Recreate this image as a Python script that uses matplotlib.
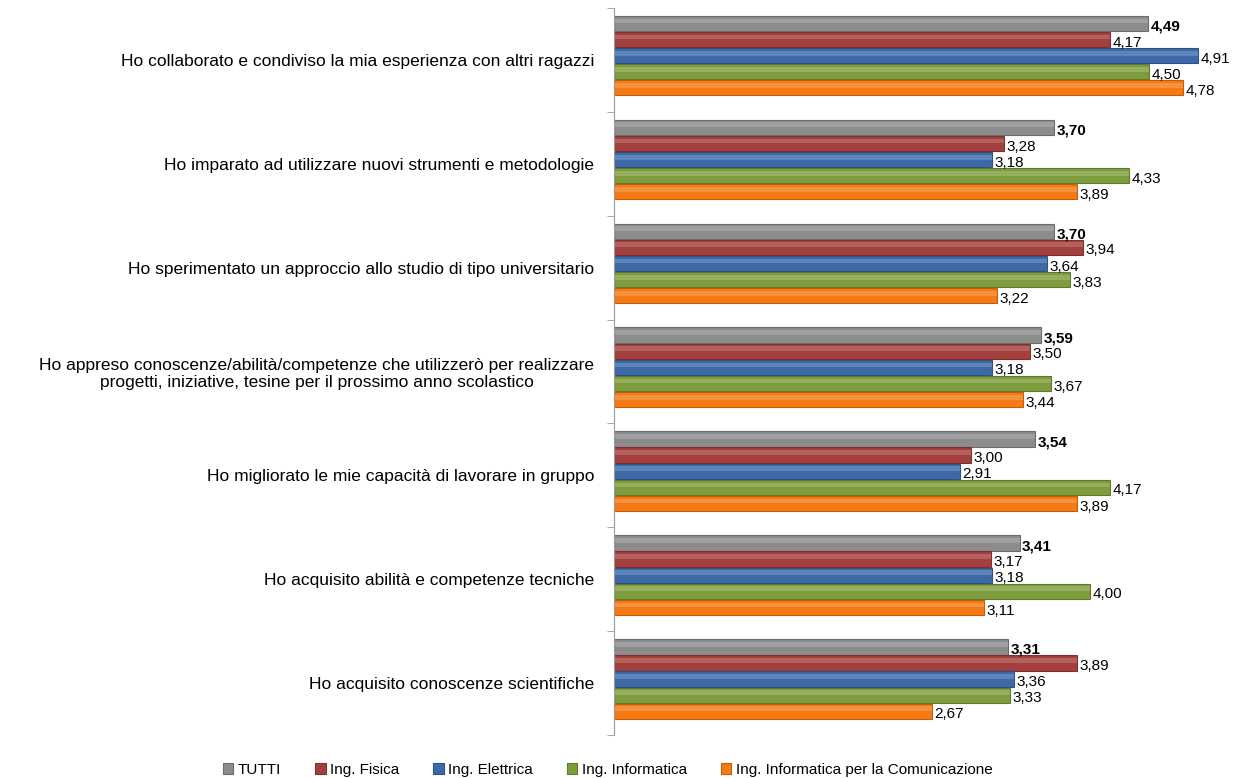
import numpy as np
import matplotlib.pyplot as plt
from matplotlib.colors import to_rgb

plt.rcParams['font.family'] = ['Liberation Sans', 'DejaVu Sans']

categories = [
    'Ho collaborato e condiviso la mia esperienza con altri ragazzi',
    'Ho imparato ad utilizzare nuovi strumenti e metodologie',
    'Ho sperimentato un approccio allo studio di tipo universitario',
    'Ho appreso conoscenze/abilità/competenze che utilizzerò per realizzare\nprogetti, iniziative, tesine per il prossimo anno scolastico',
    'Ho migliorato le mie capacità di lavorare in gruppo',
    'Ho acquisito abilità e competenze tecniche',
    'Ho acquisito conoscenze scientifiche',
]
series_names = ['TUTTI', 'Ing. Fisica', 'Ing. Elettrica', 'Ing. Informatica',
                'Ing. Informatica per la Comunicazione']
tutti = [4.49, 3.70, 3.70, 3.59, 3.54, 3.41, 3.31]
fisica = [4.17, 3.28, 3.94, 3.50, 3.00, 3.17, 3.89]
elettrica = [4.91, 3.18, 3.64, 3.18, 2.91, 3.18, 3.36]
informatica = [4.50, 4.33, 3.83, 3.67, 4.17, 4.00, 3.33]
comunicazione = [4.78, 3.89, 3.22, 3.44, 3.89, 3.11, 2.67]

values = [tutti, fisica, elettrica, informatica, comunicazione]
colors = ['#8c8c8c', '#a33f3c', '#3d69a8', '#7d9c3c', '#f57a14']


def shade(c, f):
    r, g, b = to_rgb(c)
    return (r * f, g * f, b * f)


fig = plt.figure(figsize=(12.4, 7.78), dpi=100)
ax = fig.add_axes([0.495, 0.055, 0.48, 0.935])

n = len(categories)
h = 0.155
y0 = np.arange(n)
for i, (vals, col, name) in enumerate(zip(values, colors, series_names)):
    ys = y0 - 2 * h + i * h - 0.04
    ax.barh(ys, vals, height=h * 0.95, color=col, edgecolor=shade(col, 0.78),
            linewidth=0.8, label=name)
    # lighter strip to suggest the rounded look
    ax.barh(ys - h * 0.15, vals, height=h * 0.3, color='white', alpha=0.18,
            linewidth=0)
    for y, v in zip(ys, vals):
        ax.text(v + 0.02, y + 0.03, f'{v:.2f}'.replace('.', ','),
                va='center', ha='left', fontsize=11,
                fontweight='bold' if i == 0 else 'normal')

ax.set_xlim(0, 5)
ax.set_ylim(n - 0.5, -0.5)
ax.set_yticks(y0)
ax.set_yticklabels(categories, fontsize=12.5, multialignment='center')
ax.tick_params(axis='y', length=0, pad=14)
ax.set_yticks(np.arange(-0.5, n, 1), minor=True)
ax.tick_params(axis='y', which='minor', length=5, color='#999999', direction='out')
ax.set_xticks([])
for s in ['top', 'right', 'bottom']:
    ax.spines[s].set_visible(False)
ax.spines['left'].set_color('#999999')

fig.legend(loc='lower center', ncol=5, frameon=False, fontsize=11,
           handlelength=0.7, handleheight=0.7, columnspacing=2.2,
           handletextpad=0.3, bbox_to_anchor=(0.49, -0.016))

fig.savefig('out.png', dpi=100)
